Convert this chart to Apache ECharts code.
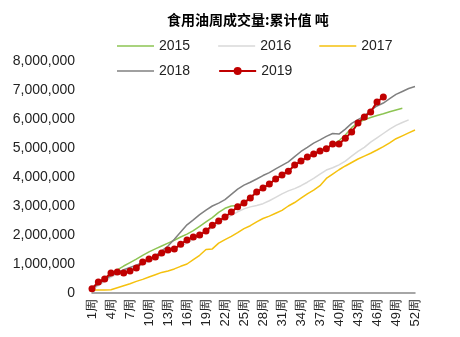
<!DOCTYPE html>
<html>
<head>
<meta charset="utf-8">
<script src="https://cdn.jsdelivr.net/npm/echarts@6/dist/echarts.min.js"></script>
<style>
  html, body { margin: 0; padding: 0; background: #fff; }
  #chart { width: 460px; height: 337px; }
</style>
</head>
<body>
<div id="chart"></div>
<script>
// Week categories 1周 … 52周
const weeks = [];
for (let i = 1; i <= 52; i++) weeks.push(i + '周');

// Cumulative weekly edible-oil volume (tonnes)
const s2015 = [170000, 350000, 520000, 660000, 800000, 930000, 1050000, 1170000, 1300000, 1420000,
  1520000, 1620000, 1720000, 1820000, 1930000, 2030000, 2150000, 2300000, 2450000, 2600000,
  2780000, 2920000, 3000000, 3020000, 3120000, 3300000, 3470000, 3620000, 3760000, 3920000,
  4060000, 4200000, 4400000, 4550000, 4680000, 4800000, 4920000, 5000000, 5120000, 5250000,
  5450000, 5700000, 5880000, 5970000, 6050000, 6120000, 6180000, 6250000, 6310000, 6370000];
const s2016 = [100000, 250000, 400000, 550000, 650000, 720000, 800000, 880000, 980000, 1080000,
  1180000, 1300000, 1420000, 1520000, 1620000, 1720000, 1850000, 2000000, 2120000, 2250000,
  2400000, 2550000, 2680000, 2800000, 2900000, 2970000, 3020000, 3080000, 3180000, 3300000,
  3420000, 3520000, 3600000, 3700000, 3820000, 3950000, 4100000, 4240000, 4320000, 4420000,
  4550000, 4720000, 4880000, 5020000, 5200000, 5350000, 5500000, 5650000, 5780000, 5880000,
  5970000];
const s2017 = [100000, 100000, 100000, 110000, 180000, 250000, 320000, 400000, 470000, 550000,
  630000, 710000, 760000, 830000, 920000, 1000000, 1150000, 1300000, 1500000, 1520000,
  1720000, 1840000, 1950000, 2080000, 2220000, 2320000, 2450000, 2570000, 2650000, 2750000,
  2850000, 3000000, 3120000, 3270000, 3420000, 3550000, 3700000, 3950000, 4100000, 4250000,
  4380000, 4500000, 4620000, 4720000, 4820000, 4930000, 5050000, 5180000, 5320000, 5420000,
  5520000, 5620000];
const s2018 = [150000, 300000, 450000, 600000, 700000, 800000, 880000, 960000, 1050000, 1150000,
  1280000, 1450000, 1620000, 1850000, 2100000, 2350000, 2520000, 2700000, 2860000, 3000000,
  3100000, 3220000, 3400000, 3580000, 3720000, 3820000, 3930000, 4050000, 4150000, 4280000,
  4400000, 4520000, 4700000, 4880000, 5020000, 5170000, 5280000, 5400000, 5500000, 5480000,
  5650000, 5850000, 5980000, 6100000, 6300000, 6450000, 6550000, 6700000, 6850000, 6950000,
  7050000, 7120000];
const s2019 = [150000, 380000, 480000, 690000, 720000, 690000, 760000, 860000, 1070000, 1170000,
  1240000, 1380000, 1480000, 1520000, 1680000, 1830000, 1930000, 2000000, 2140000, 2340000,
  2480000, 2620000, 2790000, 2970000, 3100000, 3280000, 3480000, 3620000, 3760000, 3930000,
  4070000, 4200000, 4410000, 4550000, 4690000, 4790000, 4900000, 4970000, 5140000, 5140000,
  5340000, 5550000, 5860000, 6070000, 6240000, 6590000, 6760000];

const FONT = '"Liberation Sans", Arial, sans-serif';
// thin horizontal bar used as the legend key of the plain lines
const LINE_ICON = 'path://M0,0 H37 V1.6 H0 Z';

function plainLine(name, data, color) {
  return {
    name: name, type: 'line', data: data, symbol: 'none',
    lineStyle: { color: color, width: 1.5 }, itemStyle: { color: color }
  };
}

const legendText = { fontSize: 14, color: '#222', fontFamily: FONT };

const chart = echarts.init(document.getElementById('chart'), null, { renderer: 'canvas' });
chart.setOption({
  animation: false,
  backgroundColor: '#ffffff',
  title: {
    text: '食用油周成交量:累计值 吨',
    left: 162, top: 8,
    textStyle: { fontSize: 14, fontWeight: 'bold', color: '#000', fontFamily: '"Noto Sans CJK SC", sans-serif' }
  },
  legend: [
    {
      data: [
        { name: '2015', icon: LINE_ICON },
        { name: '2016', icon: LINE_ICON },
        { name: '2017', icon: LINE_ICON }
      ],
      left: 112, top: 34, itemWidth: 37, itemHeight: 10, itemGap: 28,
      textStyle: legendText
    },
    {
      data: [
        { name: '2018', icon: LINE_ICON },
        { name: '2019' }
      ],
      left: 112, top: 59, itemWidth: 37, itemHeight: 10, itemGap: 28,
      textStyle: legendText
    }
  ],
  grid: { left: 92, right: 45, top: 61, bottom: 44, containLabel: false },
  xAxis: {
    type: 'category', data: weeks, boundaryGap: false,
    axisLine: { lineStyle: { color: '#898989', width: 1.5 } },
    axisTick: { show: false },
    axisLabel: { interval: 2, rotate: 90, fontSize: 13, color: '#222', margin: 6, fontFamily: FONT }
  },
  yAxis: {
    type: 'value', min: 0, max: 8000000, interval: 1000000,
    axisLine: { show: false }, axisTick: { show: false }, splitLine: { show: false },
    axisLabel: {
      fontSize: 14, color: '#222', margin: 17, fontFamily: FONT,
      formatter: v => v.toLocaleString('en-US')
    }
  },
  series: [
    plainLine('2015', s2015, '#8dc453'),
    plainLine('2016', s2016, '#d9d9d9'),
    plainLine('2017', s2017, '#f5c10e'),
    plainLine('2018', s2018, '#808080'),
    {
      name: '2019', type: 'line', data: s2019,
      symbol: 'circle', symbolSize: 7, showSymbol: true, showAllSymbol: true,
      lineStyle: { color: '#c00000', width: 2 },
      itemStyle: { color: '#c00000' }
    }
  ]
});
</script>
</body>
</html>
